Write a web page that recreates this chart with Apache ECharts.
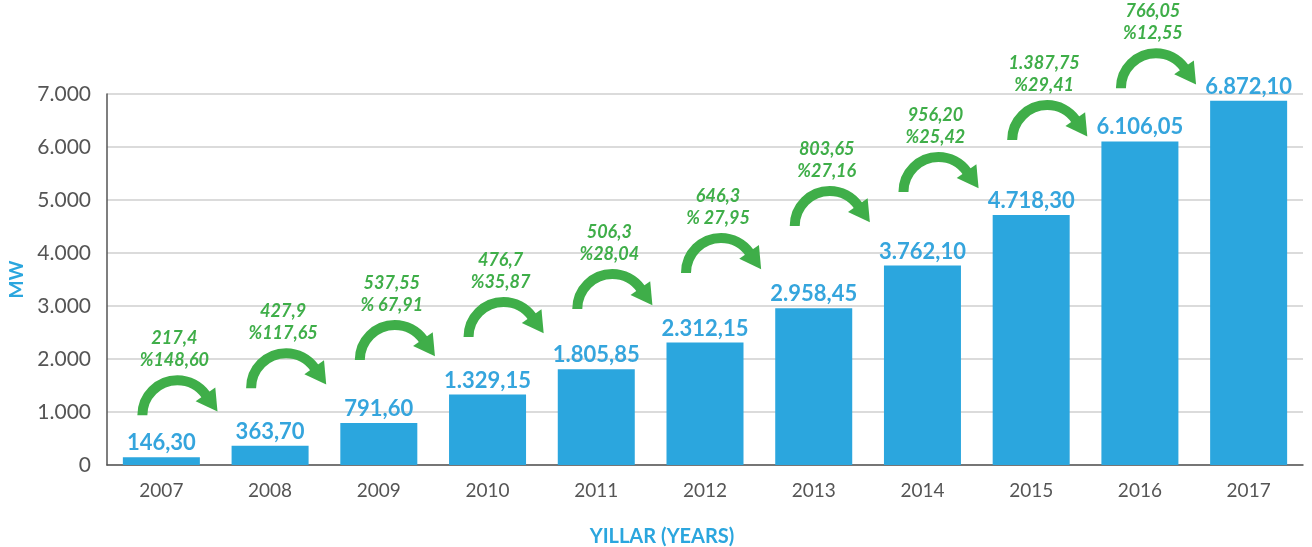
<!DOCTYPE html>
<html>
<head>
<meta charset="utf-8">
<script src="https://cdn.jsdelivr.net/npm/echarts@6/dist/echarts.min.js"></script>
<style>
  html, body { margin: 0; padding: 0; background: #ffffff; }
  #chart { width: 1312px; height: 547px; }
</style>
</head>
<body>
<div id="chart"></div>
<script>
var years = ['2007', '2008', '2009', '2010', '2011', '2012', '2013', '2014', '2015', '2016', '2017'];
var capacity = [146.30, 363.70, 791.60, 1329.15, 1805.85, 2312.15, 2958.45, 3762.10, 4718.30, 6106.05, 6872.10];
// yearly increase, written as in the picture
var increase = ['217,4', '427,9', '537,55', '476,7', '506,3', '646,3', '803,65', '956,20', '1.387,75', '766,05'];
var increasePct = ['%148,60', '%117,65', '% 67,91', '%35,87', '%28,04', '% 27,95', '%27,16', '%25,42', '%29,41', '%12,55'];
// level (MW) where each arrow stands
var arrowLevel = [940, 1450, 1980, 2415, 2945, 3625, 4510, 5150, 6130, 7110];

var blue = '#2ba6de';
var green = '#3fae49';

function fmt(v, dec) {
  var s = v.toFixed(dec);
  var parts = s.split('.');
  var intPart = parts[0].replace(/\B(?=(\d{3})+(?!\d))/g, '.');
  return dec > 0 ? intPart + ',' + parts[1] : intPart;
}

var arrowData = increase.map(function (d, i) { return [i, arrowLevel[i]]; });

var myChart = echarts.init(document.getElementById('chart'));
var option = {
  backgroundColor: '#ffffff',
  textStyle: { fontFamily: 'Lato' },
  grid: { left: 107, right: 9, top: 94, bottom: 82, outerBoundsMode: 'none' },
  xAxis: {
    type: 'category',
    data: years,
    name: 'YILLAR (YEARS)',
    nameLocation: 'middle',
    nameGap: 62,
    nameTextStyle: { color: blue, fontSize: 20, fontWeight: 'bold', padding: [0, 86, 0, 0] },
    axisTick: { show: false },
    axisLine: { lineStyle: { color: '#555', width: 1.5 } },
    axisLabel: { color: '#555', fontSize: 19, margin: 16 }
  },
  yAxis: {
    type: 'value',
    min: 0,
    max: 7000,
    interval: 1000,
    name: 'MW',
    nameLocation: 'middle',
    nameGap: 80,
    nameRotate: 90,
    nameTextStyle: { color: blue, fontSize: 19, fontWeight: 'bold' },
    axisLine: { show: true, lineStyle: { color: '#555', width: 1.5 } },
    axisTick: { show: false },
    axisLabel: {
      color: '#555', fontSize: 21, margin: 16,
      formatter: function (v) { return fmt(v, 0); }
    },
    splitLine: { lineStyle: { color: '#cfcfcf', width: 1.5 } }
  },
  series: [{
    type: 'bar',
    data: capacity,
    barWidth: 77,
    itemStyle: { color: blue },
    label: {
      show: true,
      position: 'top',
      distance: 3,
      color: '#35a5dd',
      fontSize: 22,
      fontWeight: 'bold',
      formatter: function (p) { return fmt(p.value, 2); }
    }
  }, {
    type: 'custom',
    clip: false,
    data: arrowData,
    z: 5,
    renderItem: function (params, api) {
      var i = api.value(0);
      var p = api.coord([i, api.value(1)]);
      var cx = p[0] + 16, cy = p[1], r = 35;
      var a = 325 * Math.PI / 180;
      var px = cx + r * Math.cos(a), py = cy + r * Math.sin(a);
      var tx = -Math.sin(a), ty = Math.cos(a);
      var nx = Math.cos(a), ny = Math.sin(a);
      return {
        type: 'group',
        children: [{
          type: 'arc',
          shape: { cx: cx, cy: cy, r: r, startAngle: Math.PI, endAngle: a, clockwise: true },
          style: { stroke: green, lineWidth: 10, fill: null, lineCap: 'butt' }
        }, {
          type: 'polygon',
          shape: { points: [
            [px + nx * 12 - tx * 1, py + ny * 12 - ty * 1],
            [px - nx * 12 - tx * 1, py - ny * 12 - ty * 1],
            [px + tx * 20, py + ty * 20]
          ] },
          style: { fill: green }
        }, {
          type: 'text',
          style: {
            text: increase[i] + '\n' + increasePct[i],
            x: cx - 3, y: cy - 66,
            align: 'center', verticalAlign: 'middle',
            lineHeight: 22,
            font: 'italic bold 18px Lato',
            fill: green
          }
        }]
      };
    }
  }]
};
myChart.setOption(option);
</script>
</body>
</html>
